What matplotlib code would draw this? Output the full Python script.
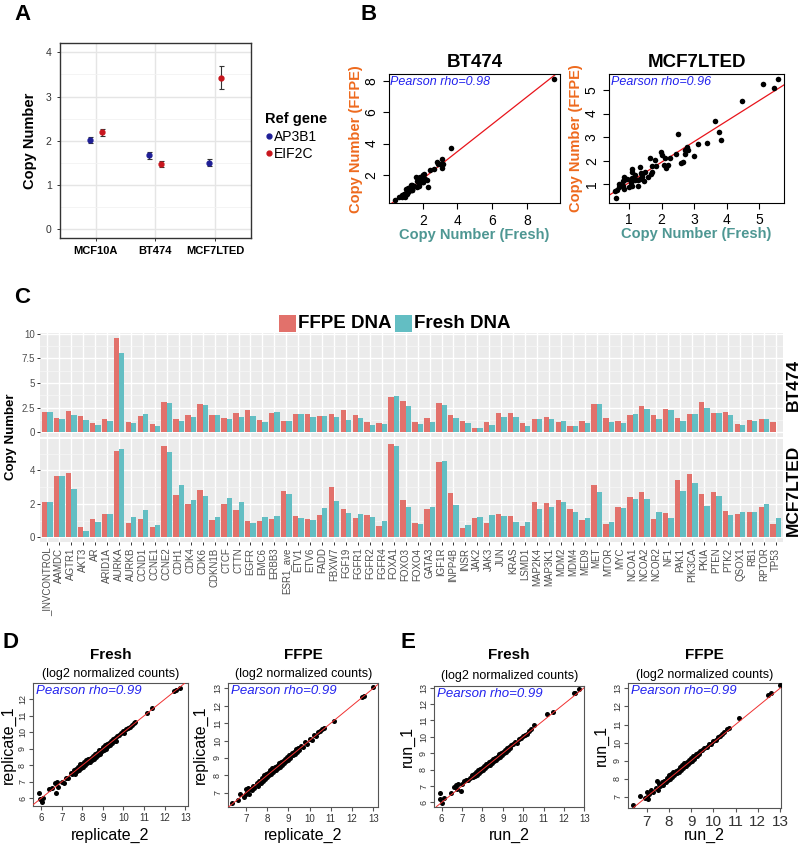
import numpy as np
import matplotlib
matplotlib.use("Agg")
import matplotlib.pyplot as plt
from matplotlib.lines import Line2D
from matplotlib.patches import Rectangle

plt.rcParams['font.family'] = ['Liberation Sans', 'DejaVu Sans']

# ---------------- Data ----------------
# Panel A
cell_lines = ['MCF10A', 'BT474', 'MCF7LTED']
ap3b1 = [2.01, 1.67, 1.50]
ap3b1_err = [0.07, 0.08, 0.08]
eif2c = [2.19, 1.48, 3.42]
eif2c_err = [0.08, 0.07, 0.26]

# Panel C
genes = ['_INVCONTROL', 'AAMDC', 'AGTR1', 'AKT3', 'AR', 'ARID1A', 'AURKA', 'AURKB',
         'CCND1', 'CCNE1', 'CCNE2', 'CDH1', 'CDK4', 'CDK6', 'CDKN1B', 'CTCF', 'CTTN',
         'EGFR', 'EMC6', 'ERBB3', 'ESR1_ave', 'ETV1', 'ETV6', 'FADD', 'FBXW7', 'FGF19',
         'FGFR1', 'FGFR2', 'FGFR4', 'FOXA1', 'FOXO3', 'FOXO4', 'GATA3', 'IGF1R', 'INPP4B',
         'INSR', 'JAK2', 'JAK3', 'JUN', 'KRAS', 'LSMD1', 'MAP2K4', 'MAP3K1', 'MDM2', 'MDM4',
         'MED9', 'MET', 'MTOR', 'MYC', 'NCOA1', 'NCOA2', 'NCOR2', 'NF1', 'PAK1', 'PIK3CA',
         'PKIA', 'PTEN', 'PTK2', 'QSOX1', 'RB1', 'RPTOR', 'TP53']
bt474_ffpe = [2.05, 1.40, 2.15, 1.65, 0.95, 1.30, 9.55, 1.07, 1.62, 0.80, 3.10, 1.35,
              1.80, 2.85, 1.72, 1.45, 1.97, 2.25, 1.23, 2.00, 1.17, 1.85, 1.90, 1.65,
              1.90, 2.30, 1.80, 1.00, 0.93, 3.62, 3.17, 1.03, 1.40, 2.97, 1.80, 1.13,
              0.40, 1.07, 2.00, 2.00, 0.97, 1.33, 1.50, 1.03, 0.63, 1.10, 2.83, 1.40,
              1.13, 1.77, 2.63, 1.77, 2.40, 1.40, 1.90, 3.10, 2.00, 2.10, 0.80, 1.23,
              1.37, 1.03]
bt474_fresh = [2.05, 1.37, 1.73, 1.23, 0.77, 1.13, 8.10, 0.90, 1.87, 0.60, 3.00, 1.17,
               1.60, 2.73, 1.80, 1.30, 1.60, 1.70, 1.00, 2.03, 1.17, 1.85, 1.55, 1.65,
               1.60, 1.23, 1.43, 0.77, 0.80, 3.72, 2.67, 0.83, 1.03, 2.73, 1.43, 0.93,
               0.40, 0.77, 1.53, 1.53, 0.60, 1.37, 1.33, 1.10, 0.63, 0.90, 2.83, 1.03,
               0.97, 1.83, 2.37, 1.33, 2.30, 1.10, 1.90, 2.47, 1.97, 1.73, 0.73, 1.17,
               1.30, np.nan]
mcf7lted_ffpe = [2.11, 3.64, 3.84, 0.60, 1.10, 1.39, 5.13, 0.85, 1.10, 0.62, 5.47, 2.50,
                 2.01, 2.82, 1.05, 1.99, 1.65, 0.99, 0.95, 1.10, 2.78, 1.27, 1.07, 1.33,
                 3.00, 1.67, 1.17, 1.35, 0.68, 5.59, 2.21, 0.85, 1.69, 4.49, 2.66, 0.56,
                 1.17, 0.85, 1.41, 1.27, 0.70, 2.13, 2.07, 2.25, 1.71, 1.05, 3.12, 0.80,
                 1.83, 2.43, 2.72, 1.09, 1.45, 3.40, 3.78, 2.60, 2.72, 1.59, 1.37, 1.49,
                 1.81, 0.82]
mcf7lted_fresh = [2.11, 3.68, 2.88, 0.40, 0.93, 1.39, 5.27, 1.19, 1.65, 0.76, 5.07, 3.14,
                  2.23, 2.45, 1.21, 2.37, 2.09, 0.87, 1.23, 1.25, 2.58, 1.17, 1.03, 1.73,
                  2.19, 1.43, 1.39, 1.23, 1.00, 5.47, 1.83, 0.78, 1.79, 4.55, 1.95, 0.72,
                  1.19, 1.31, 1.29, 0.93, 0.89, 1.67, 1.83, 2.09, 1.53, 1.13, 2.72, 0.93,
                  1.75, 2.27, 2.27, 1.51, 1.15, 2.76, 3.22, 1.89, 2.45, 1.31, 1.49, 1.51,
                  2.01, 1.13]

# Panels D / E  (x, y) pairs
d_fresh_pts = [(5.9, 6.35), (5.95, 5.95), (6.05, 5.8), (6.1, 6.0), (6.4, 6.55), (6.55, 6.6),
               (6.65, 6.9), (6.7, 6.35), (6.75, 7.0), (6.8, 6.7), (7.0, 7.0), (7.1, 6.9),
               (7.2, 7.25), (7.3, 7.2), (7.45, 7.55), (7.5, 7.45), (7.6, 7.7), (7.65, 7.5),
               (7.7, 7.8), (7.75, 7.65), (7.8, 7.9), (7.85, 7.7), (7.9, 8.05), (7.95, 7.85),
               (8.0, 8.1), (8.05, 7.9), (8.1, 8.2), (8.15, 8.0), (8.2, 8.35), (8.25, 8.15),
               (8.3, 8.4), (8.35, 8.2), (8.4, 8.45), (8.45, 8.3), (8.5, 8.55), (8.55, 8.4),
               (8.6, 8.7), (8.65, 8.5), (8.7, 8.75), (8.75, 8.6), (8.8, 8.9), (8.85, 8.7),
               (8.9, 8.95), (8.95, 8.85), (9.0, 9.1), (9.05, 8.95), (9.1, 9.2), (9.15, 9.0),
               (9.2, 9.3), (9.25, 9.15), (9.3, 9.35), (9.35, 9.25), (9.4, 9.5), (9.45, 9.35),
               (9.5, 9.6), (9.55, 9.45), (9.6, 9.65), (9.65, 9.5), (9.7, 9.75), (9.8, 9.85),
               (9.9, 9.95), (10.0, 10.1), (10.05, 9.95), (10.1, 10.2), (10.2, 10.25),
               (10.3, 10.3), (10.4, 10.45), (10.5, 10.55), (10.55, 10.6), (11.15, 11.15),
               (11.4, 11.5), (12.45, 12.5), (12.55, 12.55), (12.75, 12.7)]
d_ffpe_pts = [(6.35, 6.4), (6.65, 6.6), (6.7, 6.95), (6.9, 6.75), (7.0, 7.2), (7.0, 6.9),
              (7.05, 7.05), (7.1, 7.3), (7.15, 6.95), (7.2, 7.2), (7.3, 7.15), (7.35, 7.4),
              (7.4, 7.3), (7.5, 7.55), (7.55, 7.4), (7.6, 7.7), (7.7, 7.55), (7.75, 7.85),
              (7.8, 7.7), (7.85, 8.0), (7.9, 7.8), (7.95, 8.1), (8.0, 7.9), (8.05, 8.15),
              (8.1, 8.0), (8.15, 8.3), (8.2, 8.1), (8.25, 8.4), (8.3, 8.2), (8.35, 8.5),
              (8.4, 8.3), (8.45, 8.55), (8.5, 8.4), (8.55, 8.7), (8.6, 8.5), (8.65, 8.75),
              (8.7, 8.6), (8.75, 8.85), (8.8, 8.7), (8.85, 8.95), (8.9, 8.85), (8.95, 9.05),
              (9.0, 8.9), (9.05, 9.15), (9.1, 9.0), (9.15, 9.3), (9.2, 9.15), (9.25, 9.35),
              (9.3, 9.25), (9.35, 9.5), (9.4, 9.35), (9.45, 9.55), (9.5, 9.45), (9.6, 9.7),
              (9.7, 9.6), (9.8, 9.9), (9.9, 9.8), (10.0, 10.1), (10.1, 10.05), (10.2, 10.3),
              (10.3, 10.25), (10.4, 10.5), (10.5, 10.55), (10.6, 10.65), (10.7, 10.7),
              (11.15, 11.15), (12.45, 12.5), (12.55, 12.55), (13.0, 13.05)]
e_fresh_pts = [(5.9, 6.6), (5.9, 6.2), (6.0, 5.95), (6.1, 6.25), (6.45, 6.6), (6.6, 6.95),
               (6.7, 7.05), (6.8, 7.1), (6.75, 6.85), (6.95, 6.7), (7.0, 7.15), (7.1, 7.3),
               (7.2, 7.35), (7.3, 7.35), (7.4, 7.5), (7.5, 7.7), (7.55, 7.55), (7.6, 7.75),
               (7.65, 7.6), (7.7, 7.85), (7.75, 7.7), (7.8, 7.95), (7.85, 7.8), (7.9, 8.05),
               (7.95, 7.9), (8.0, 8.1), (8.05, 7.95), (8.1, 8.25), (8.15, 8.1), (8.2, 8.35),
               (8.25, 8.2), (8.3, 8.45), (8.35, 8.3), (8.4, 8.55), (8.45, 8.4), (8.5, 8.65),
               (8.55, 8.5), (8.6, 8.7), (8.65, 8.6), (8.7, 8.8), (8.75, 8.7), (8.8, 8.95),
               (8.85, 8.8), (8.9, 9.0), (8.95, 8.9), (9.0, 9.1), (9.05, 9.0), (9.1, 9.2),
               (9.15, 9.1), (9.2, 9.3), (9.25, 9.2), (9.3, 9.4), (9.35, 9.3), (9.4, 9.5),
               (9.5, 9.55), (9.6, 9.7), (9.7, 9.65), (9.8, 9.85), (9.9, 9.9), (10.0, 10.05),
               (10.1, 10.1), (10.2, 10.2), (10.3, 10.35), (10.4, 10.45), (10.55, 10.75),
               (11.15, 11.4), (11.45, 11.5), (12.5, 12.65), (12.55, 12.7), (12.75, 12.9)]
e_ffpe_pts = [(6.4, 6.55), (6.7, 7.05), (6.9, 6.95), (7.0, 7.25), (7.0, 7.0), (7.05, 6.9),
              (7.1, 7.15), (7.2, 7.4), (7.3, 7.25), (7.4, 7.5), (7.45, 7.9), (7.55, 7.7),
              (7.5, 7.4), (7.6, 7.6), (7.7, 7.8), (7.75, 7.65), (7.8, 7.9), (7.85, 7.8),
              (7.9, 8.05), (7.95, 7.95), (8.0, 8.2), (8.05, 8.0), (8.1, 8.25), (8.15, 8.1),
              (8.2, 8.35), (8.25, 8.2), (8.3, 8.45), (8.35, 8.3), (8.4, 8.5), (8.45, 8.4),
              (8.5, 8.65), (8.55, 8.5), (8.6, 8.75), (8.65, 8.6), (8.7, 8.85), (8.75, 8.7),
              (8.8, 8.9), (8.85, 8.8), (8.9, 9.05), (8.95, 8.9), (9.0, 9.15), (9.05, 9.0),
              (9.1, 9.25), (9.15, 9.1), (9.2, 9.35), (9.25, 9.25), (9.3, 9.45), (9.35, 9.35),
              (9.4, 9.55), (9.5, 9.6), (9.6, 9.7), (9.7, 9.75), (9.8, 9.9), (9.9, 9.95),
              (10.0, 10.1), (10.1, 10.15), (10.2, 10.3), (10.3, 10.35), (10.4, 10.5),
              (10.5, 10.6), (10.6, 10.75), (10.7, 10.8), (11.15, 11.35), (12.45, 12.65),
              (12.6, 12.75), (13.0, 13.2)]

# ---------------- Figure ----------------
W, H = 800, 846
fig = plt.figure(figsize=(W / 100, H / 100), dpi=100)


def add_ax(x0, y0, x1, y1):
    return fig.add_axes([x0 / W, 1 - y1 / H, (x1 - x0) / W, (y1 - y0) / H])


def ftext(x, y, s, **kw):
    return fig.text(x / W, 1 - y / H, s, **kw)


C_FFPE = '#E2716B'
C_FRESH = '#63BEC3'
ORANGE = '#EE6A1E'
TEAL = '#4E9793'

# Panel letters
for lab, x, y in [('A', 14, 20), ('B', 361, 20), ('C', 14, 303), ('D', 3, 648), ('E', 400, 648)]:
    ftext(x, y, lab, fontsize=16, fontweight='bold', va='baseline', ha='left')

# ---------------- Panel A ----------------
axA = add_ax(60, 43, 250.7, 238)
xa = np.arange(1, 4)
axA.errorbar(xa - 0.1, ap3b1, yerr=ap3b1_err, fmt='o', color='#1E1E96', ms=3.5,
             ecolor='#333333', elinewidth=0.8, capsize=1.8, capthick=0.8, zorder=3)
axA.errorbar(xa + 0.1, eif2c, yerr=eif2c_err, fmt='o', color='#C8161D', ms=3.5,
             ecolor='#333333', elinewidth=0.8, capsize=1.8, capthick=0.8, zorder=3)
axA.set_xlim(0.4, 3.6)
axA.set_ylim(-0.2, 4.21)
axA.set_xticks(xa)
axA.set_xticklabels(cell_lines, fontsize=8, fontweight='bold')
axA.set_yticks([0, 1, 2, 3, 4])
axA.set_yticks([0.5, 1.5, 2.5, 3.5], minor=True)
axA.tick_params(axis='y', labelsize=7.5, colors='#333333', length=2.5, width=0.7)
axA.tick_params(axis='x', length=2.5, width=0.7, colors='#333333', labelcolor='black')
axA.tick_params(axis='y', which='minor', length=0)
axA.grid(True, which='major', color='#E5E5E5', lw=1.0)
axA.grid(True, which='minor', axis='y', color='#F2F2F2', lw=0.6)
axA.set_axisbelow(True)
for sp in axA.spines.values():
    sp.set_color('#333333')
    sp.set_linewidth(1.0)
axA.set_ylabel('Copy Number', fontsize=10.5, fontweight='bold', labelpad=6)
handles = [Line2D([], [], marker='o', ls='', color='#1E1E96', ms=3.5),
           Line2D([], [], marker='o', ls='', color='#C8161D', ms=3.5)]
legA = axA.legend(handles, ['AP3B1', 'EIF2C'], title='Ref gene', frameon=False,
                  loc='center left', bbox_to_anchor=(1.01, 0.52), fontsize=10,
                  handlelength=0.5, handletextpad=0.15, labelspacing=0.25,
                  title_fontproperties={'weight': 'bold', 'size': 10.5})
legA._legend_box.align = 'left'


# ---------------- Panel B ----------------
def base_r_axes(ax):
    for sp in ax.spines.values():
        sp.set_color('black')
        sp.set_linewidth(0.8)
    ax.tick_params(direction='out', length=4, width=0.8, top=False, right=False)
    for t in ax.get_yticklabels():
        t.set_rotation(90)
        t.set_va('center')


def panel_b(box, title, ffpe, fresh, xlim, ylim, xt, yt, rho):
    ax = add_ax(*box)
    xv = np.array(ffpe, float)
    yv = np.array(fresh, float)
    ok = ~np.isnan(xv) & ~np.isnan(yv)
    ax.scatter(xv[ok], yv[ok], s=16, color='black', zorder=3, linewidths=0)
    m, b = np.polyfit(xv[ok], yv[ok], 1)
    ax.axline((0, b), slope=m, color='#E8141B', lw=0.9, zorder=2)
    ax.set_xlim(*xlim)
    ax.set_ylim(*ylim)
    ax.set_xticks(xt)
    ax.set_yticks(yt)
    ax.tick_params(labelsize=10)
    base_r_axes(ax)
    ax.set_title(title, fontsize=13.5, fontweight='bold', pad=5)
    ax.set_xlabel('Copy Number (Fresh)', fontsize=10.5, fontweight='bold', color=TEAL, labelpad=0)
    ax.set_ylabel('Copy Number (FFPE)', fontsize=10.5, fontweight='bold', color=ORANGE, labelpad=1)
    ax.text(0.01, 0.985, rho, transform=ax.transAxes, fontsize=9, style='italic',
            color='#2222EE', va='top', ha='left')
    return ax


panel_b((388.7, 74, 560, 203.3), 'BT474', bt474_ffpe, bt474_fresh,
        (0.04, 9.9), (0.2, 8.43), [2, 4, 6, 8], [2, 4, 6, 8], 'Pearson rho=0.98')
panel_b((609.3, 74, 784, 202.7), 'MCF7LTED', mcf7lted_ffpe, mcf7lted_fresh,
        (0.39, 5.77), (0.21, 5.68), [1, 2, 3, 4, 5], [1, 2, 3, 4, 5], 'Pearson rho=0.96')

# ---------------- Panel C ----------------
xg = np.arange(1, len(genes) + 1)
axT = add_ax(40.3, 333, 783, 437)
axB = add_ax(40.3, 439, 783, 542)
for ax, ff, fr, ylim, yt, ytl, ymin in [
        (axT, bt474_ffpe, bt474_fresh, (-0.48, 10.08), [0, 2.5, 5, 7.5, 10],
         ['0', '2.5', '5', '7.5', '10'], [1.25, 3.75, 6.25, 8.75]),
        (axB, mcf7lted_ffpe, mcf7lted_fresh, (-0.28, 5.87), [0, 2, 4],
         ['0', '2', '4'], [1, 3, 5])]:
    ax.set_facecolor('#EBEBEB')
    ax.bar(xg - 0.225, ff, width=0.45, color=C_FFPE, zorder=3, linewidth=0)
    ax.bar(xg + 0.225, np.nan_to_num(fr), width=0.45, color=C_FRESH, zorder=3, linewidth=0)
    ax.set_xlim(0.4, len(genes) + 0.6)
    ax.set_ylim(*ylim)
    ax.set_yticks(yt)
    ax.set_yticklabels(ytl)
    ax.set_yticks(ymin, minor=True)
    ax.set_xticks(xg)
    ax.grid(True, which='major', color='white', lw=1.0)
    ax.grid(True, which='minor', axis='y', color='#F7F7F7', lw=0.5)
    ax.set_axisbelow(True)
    for sp in ax.spines.values():
        sp.set_visible(False)
    ax.tick_params(axis='y', which='major', labelsize=7, colors='#333333', length=2.5, width=0.7,
                   labelcolor='#4D4D4D', pad=1.5)
    ax.tick_params(axis='y', which='minor', length=0)
axT.tick_params(axis='x', length=0, labelbottom=False)
axB.set_xticklabels(genes, rotation=90, fontsize=7, color='#4D4D4D')
axB.tick_params(axis='x', length=2.5, width=0.7, colors='#333333', labelcolor='#4D4D4D', pad=1.5)

ftext(793, 385, 'BT474', rotation=90, fontsize=12.5, fontweight='bold', ha='center', va='center')
ftext(793, 490, 'MCF7LTED', rotation=90, fontsize=12.5, fontweight='bold', ha='center', va='center')
ftext(11, 437, 'Copy Number', rotation=90, fontsize=9.5, fontweight='bold', ha='center', va='center')

# legend for C
fig.patches.append(Rectangle((279 / W, 1 - 332 / H), 17 / W, 17 / H, transform=fig.transFigure,
                             facecolor=C_FFPE, edgecolor='none'))
ftext(298, 323.5, 'FFPE DNA', fontsize=13.5, fontweight='bold', va='center', ha='left')
fig.patches.append(Rectangle((394.5 / W, 1 - 332 / H), 17 / W, 17 / H, transform=fig.transFigure,
                             facecolor=C_FRESH, edgecolor='none'))
ftext(413.5, 323.5, 'Fresh DNA', fontsize=13.5, fontweight='bold', va='center', ha='left')


# ---------------- Panels D / E ----------------
def panel_rep(box, pts, title, xlab, ylab, xlim, ylim, xt, yt, xtsize=7, title_y=655, sub_y=674.5,
              ylab_x=None):
    ax = add_ax(*box)
    xs = [p[0] for p in pts]
    ys = [p[1] for p in pts]
    ax.scatter(xs, ys, s=13, color='black', zorder=3, linewidths=0)
    ax.axline((0, 0), slope=1, color='#F03030', lw=0.7, zorder=4)
    ax.set_xlim(*xlim)
    ax.set_ylim(*ylim)
    ax.set_xticks(xt)
    ax.set_yticks(yt)
    ax.tick_params(axis='x', labelsize=xtsize, pad=2)
    ax.tick_params(axis='y', labelsize=6.5, pad=1.5)
    base_r_axes(ax)
    for sp in ax.spines.values():
        sp.set_color('#555555')
    ax.tick_params(length=3, colors='#555555', labelcolor='#333333')
    cx = (box[0] + box[2]) / 2
    ftext(cx, title_y, title, fontsize=11, fontweight='bold', ha='center', va='center')
    ftext(cx, sub_y, '(log2 normalized counts)', fontsize=9, ha='center', va='center')
    ftext(cx, 835, xlab, fontsize=11.5, ha='center', va='center')
    ftext(ylab_x, (box[1] + box[3]) / 2, ylab, fontsize=11.5, rotation=90, ha='center', va='center')
    ax.text(0.015, 0.985, 'Pearson rho=0.99', transform=ax.transAxes, fontsize=9.5,
            style='italic', color='#2222EE', va='top', ha='left')
    return ax


panel_rep((33.3, 683.3, 187.7, 805.7), d_fresh_pts, 'Fresh', 'replicate_2', 'replicate_1',
          (5.62, 13.12), (5.55, 12.97), range(6, 14), range(6, 13), ylab_x=8)
panel_rep((228.3, 683.3, 378.3, 807), d_ffpe_pts, 'FFPE', 'replicate_2', 'replicate_1',
          (6.17, 13.24), (6.18, 13.29), range(7, 14), range(7, 14), ylab_x=200)
panel_rep((434.3, 685.7, 584.3, 806.7), e_fresh_pts, 'Fresh', 'run_2', 'run_1',
          (5.64, 12.96), (5.74, 13.12), range(6, 14), range(6, 14), sub_y=676.5, ylab_x=407)
panel_rep((628.3, 683.3, 781, 807.7), e_ffpe_pts, 'FFPE', 'run_2', 'run_1',
          (6.17, 13.05), (6.4, 13.28), range(7, 14), range(7, 14), xtsize=11, sub_y=675,
          ylab_x=601)

fig.savefig('out.png', dpi=100)
